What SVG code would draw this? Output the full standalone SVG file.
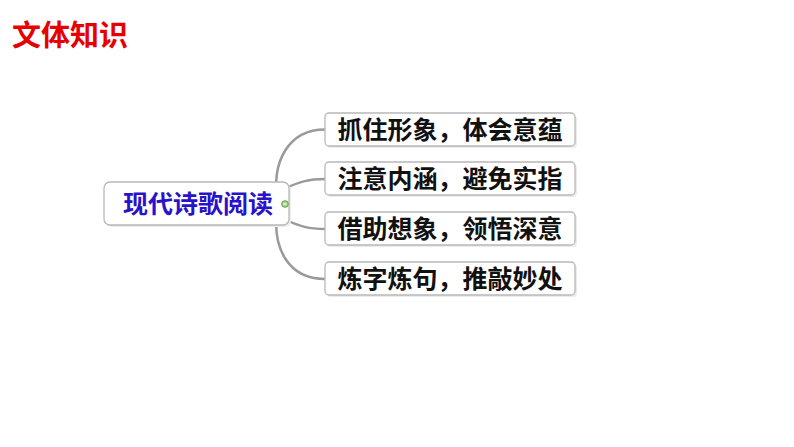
<svg xmlns="http://www.w3.org/2000/svg" width="794" height="447" viewBox="0 0 794 447">
<style>
.bg{fill:#ffffff}
.conn{fill:none;stroke:#9a9a9a;stroke-width:2.5}
.box{fill:#ffffff;stroke:#b8b8b8;stroke-width:1.3}
.shadow{fill:#ececec}
.t{font-family:"Noto Sans CJK SC","Liberation Sans",sans-serif;font-weight:bold}
.child{font-size:25px;fill:#111111}
</style>
<rect class="bg" x="0" y="0" width="794" height="447"/>
<text id="title" class="t" x="12" y="46" font-size="29" fill="#e60000">文体知识</text>
<g id="connectors">
<path class="conn" d="M278 204 C270 160 290 129.5 325 129.5"/>
<path class="conn" d="M282 190 C300 181 310 179 325 179"/>
<path class="conn" d="M282 218 C300 227 310 229 325 229"/>
<path class="conn" d="M278 204 C270 250 290 279 325 279"/>
</g>
<g id="root">
<rect class="shadow" x="106" y="184" width="185" height="43" rx="6"/>
<rect class="box" x="104" y="182" width="185" height="43" rx="6"/>
<text class="t" x="198" y="213" font-size="25" fill="#2a12c8" text-anchor="middle">现代诗歌阅读</text>
<circle cx="285" cy="204" r="3.3" fill="#a8d890" stroke="#5aa040" stroke-width="1"/>
<line x1="283.3" y1="204" x2="286.7" y2="204" stroke="#ffffff" stroke-width="1"/>
</g>
<g id="n1">
<rect class="shadow" x="327" y="115" width="250" height="33" rx="4"/>
<rect class="box" x="325" y="113" width="250" height="33" rx="4"/>
<text class="t child" x="450" y="139" text-anchor="middle">抓住形象，体会意蕴</text>
</g>
<g id="n2">
<rect class="shadow" x="327" y="164" width="250" height="33" rx="4"/>
<rect class="box" x="325" y="162" width="250" height="33" rx="4"/>
<text class="t child" x="450" y="188" text-anchor="middle">注意内涵，避免实指</text>
</g>
<g id="n3">
<rect class="shadow" x="327" y="214" width="250" height="33" rx="4"/>
<rect class="box" x="325" y="212" width="250" height="33" rx="4"/>
<text class="t child" x="450" y="238" text-anchor="middle">借助想象，领悟深意</text>
</g>
<g id="n4">
<rect class="shadow" x="327" y="264" width="250" height="33" rx="4"/>
<rect class="box" x="325" y="262" width="250" height="33" rx="4"/>
<text class="t child" x="450" y="288" text-anchor="middle">炼字炼句，推敲妙处</text>
</g>
</svg>
